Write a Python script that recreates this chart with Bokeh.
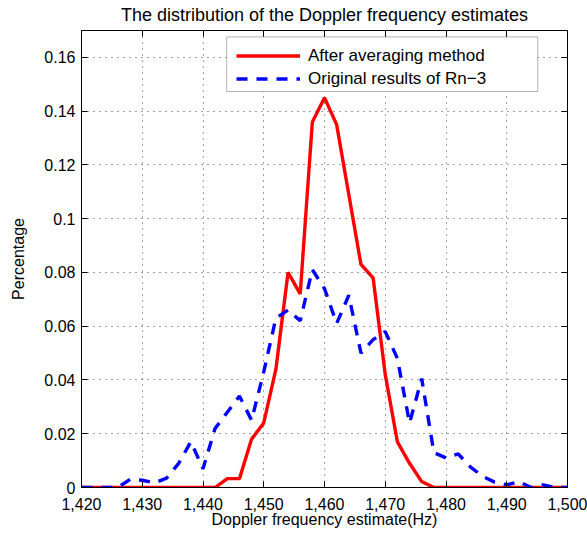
from bokeh.plotting import figure
from bokeh.models import (FixedTicker, LinearAxis, Range1d, Legend, LegendItem,
                          NumeralTickFormatter, BoxAnnotation)
from bokeh.embed import file_html
from bokeh.resources import INLINE

# ---------------- data ----------------
freq = [1420, 1422, 1424, 1426, 1428, 1430, 1432, 1434, 1436, 1438,
        1440, 1442, 1444, 1446, 1448, 1450, 1452, 1454, 1456, 1458,
        1460, 1462, 1464, 1466, 1468, 1470, 1472, 1474, 1476, 1478,
        1480, 1482, 1484, 1486, 1488, 1490, 1492, 1494, 1496, 1498, 1500]

after_avg = [0, 0, 0, 0, 0, 0, 0, 0, 0, 0,
             0, 0, 0.0033, 0.0033, 0.018, 0.024, 0.044, 0.080, 0.072, 0.136,
             0.145, 0.135, 0.109, 0.083, 0.078, 0.042, 0.017, 0.009, 0.0022, 0,
             0, 0, 0, 0, 0, 0, 0, 0, 0, 0, 0]

original_rn3 = [0, 0, 0, 0, 0.003, 0.0027, 0.0017, 0.0035, 0.009, 0.017,
                0.007, 0.022, 0.028, 0.034, 0.025, 0.043, 0.063, 0.066, 0.062, 0.081,
                0.074, 0.061, 0.0715, 0.050, 0.055, 0.058, 0.048, 0.024, 0.0405, 0.013,
                0.011, 0.0125, 0.0077, 0.0042, 0.002, 0.001, 0.0022, 0, 0.001, 0, 0]

x_ticks = [1420, 1430, 1440, 1450, 1460, 1470, 1480, 1490, 1500]
y_ticks = [0, 0.02, 0.04, 0.06, 0.08, 0.1, 0.12, 0.14, 0.16]
y_tick_labels = ["0", "0.02", "0.04", "0.06", "0.08", "0.1", "0.12", "0.14", "0.16"]

series_names = ["After averaging method", "Original results of Rn\u22123"]
chart_title = "The distribution of the Doppler frequency estimates"

FONT = "Liberation Sans"

p = figure(width=587, height=542, output_backend="svg", toolbar_location=None,
           x_range=Range1d(1420, 1500), y_range=Range1d(0, 0.17),
           min_border_left=81, min_border_right=20, min_border_top=30,
           min_border_bottom=55, title=chart_title)

p.title.text_font = FONT
p.title.text_font_size = "18px"
p.title.text_font_style = "normal"
p.title.text_color = "black"
p.title.align = "center"
p.title.vertical_align = "top"
p.title.standoff = 8
p.title.offset = 0

p.outline_line_color = "black"
p.outline_line_width = 1
p.background_fill_color = "white"
p.border_fill_color = "white"

# main axes
for ax in p.xaxis + p.yaxis:
    ax.major_tick_in = 6
    ax.major_tick_out = 0
    ax.minor_tick_line_color = None
    ax.axis_line_color = "black"
    ax.major_tick_line_color = "black"
    ax.major_label_text_font = FONT
    ax.major_label_text_font_size = "16px"
    ax.major_label_text_color = "black"
    ax.axis_label_text_font = FONT
    ax.axis_label_text_font_size = "16px"
    ax.axis_label_text_font_style = "normal"
    ax.axis_label_text_color = "black"

p.xaxis.ticker = FixedTicker(ticks=x_ticks)
p.xaxis.formatter = NumeralTickFormatter(format="0,0")
p.xaxis.axis_label = "Doppler frequency estimate(Hz)"
p.xaxis.major_label_standoff = 10
p.xaxis.axis_label_standoff = -2

p.yaxis.ticker = FixedTicker(ticks=y_ticks)
p.yaxis.major_label_overrides = {t: s for t, s in zip(y_ticks, y_tick_labels)}
p.yaxis.axis_label = "Percentage"
p.yaxis.major_label_standoff = 6
p.yaxis.axis_label_standoff = 14

# box axes (top / right) with inward ticks, no labels drawn
top = LinearAxis(ticker=FixedTicker(ticks=x_ticks), major_tick_in=6, major_tick_out=0,
                 minor_tick_line_color=None, major_label_text_font_size="1px",
                 major_label_text_color=None, major_label_standoff=0,
                 axis_line_color="black")
right = LinearAxis(ticker=FixedTicker(ticks=y_ticks), major_tick_in=6, major_tick_out=0,
                   minor_tick_line_color=None, major_label_text_font_size="1px",
                   major_label_text_color=None, major_label_standoff=0,
                   axis_line_color="black")
p.add_layout(top, "above")
p.add_layout(right, "right")

# grid
for g in p.xgrid + p.ygrid:
    g.grid_line_color = "#444444"
    g.grid_line_dash = "1 5"
    g.grid_line_width = 1
p.xgrid.ticker = FixedTicker(ticks=x_ticks)
p.ygrid.ticker = FixedTicker(ticks=y_ticks)

r_red = p.line(freq, after_avg, line_color="#FF0000", line_width=3.4)
r_blue = p.line(freq, original_rn3, line_color="#0000FF", line_width=3.4,
                line_dash="11 9")

# legend frame (MATLAB-style wide box)
legend_box = BoxAnnotation(left=1443.9, right=1495.1, bottom=0.1473, top=0.1676,
                           fill_color="white", fill_alpha=1,
                           line_color="black", line_width=1)
p.add_layout(legend_box)

legend = Legend(items=[LegendItem(label=series_names[0], renderers=[r_red]),
                       LegendItem(label=series_names[1], renderers=[r_blue])],
                location=(155, 397))
legend.label_text_font = FONT
legend.label_text_font_size = "17px"
legend.label_text_color = "black"
legend.glyph_width = 64
legend.glyph_height = 23
legend.label_height = 23
legend.label_standoff = 8
legend.spacing = 0
legend.padding = 4
legend.margin = 0
legend.border_line_color = None
legend.background_fill_alpha = 0
p.add_layout(legend, "center")

open("out.html", "w").write(file_html(p, INLINE))
